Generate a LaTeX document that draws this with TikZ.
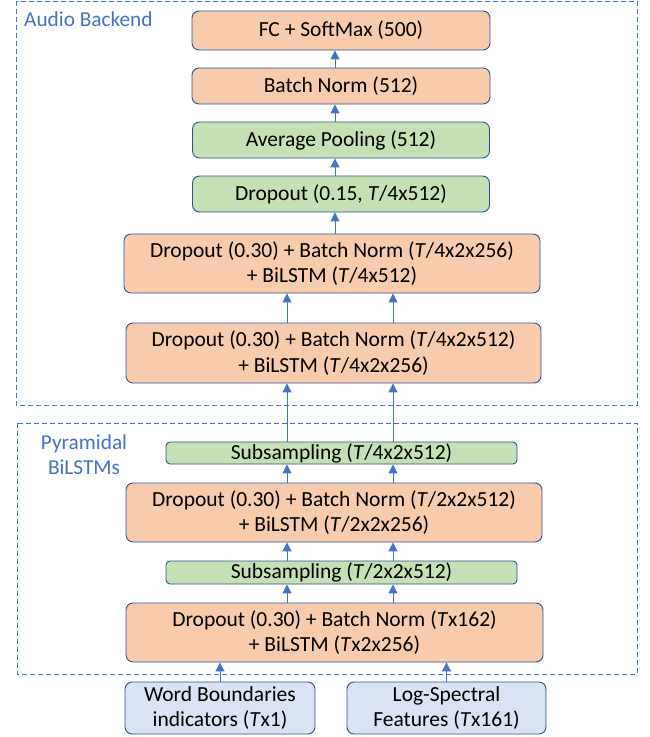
\documentclass[tikz,border=0pt]{standalone}
\usepackage{fontspec}
\setmainfont{Carlito}
\usetikzlibrary{arrows.meta}
\definecolor{Peach}{RGB}{248,203,173}
\definecolor{Sage}{RGB}{197,224,180}
\definecolor{Mist}{RGB}{218,227,243}
\definecolor{Edge}{RGB}{47,82,143}
\definecolor{Accent}{RGB}{68,114,196}

\begin{document}
\begin{tikzpicture}[x=1pt,y=-1pt,
    layer/.style={draw=Edge,line width=0.9pt,rounded corners=7pt,align=center,
      inner sep=0pt,font=\fontsize{21.5}{25.5}\selectfont},
    dense/.style={layer,fill=Peach},
    light/.style={layer,fill=Sage},
    inputbox/.style={layer,fill=Mist},
    group/.style={draw=Accent,line width=0.9pt,dash pattern=on 5pt off 3pt},
    grouplabel/.style={text=Accent,inner sep=0pt,align=center,font=\fontsize{21.3}{25}\selectfont},
    arr/.style={draw=Accent,line width=1pt,-{Triangle[length=9pt,width=9pt]}}]
  \useasboundingbox (0,0) rectangle (649,737);

  % groups
  \draw[group] (16,1) rectangle (637,405);
  \draw[group] (17,423) rectangle (637,674);
  \node[grouplabel,anchor=west] (backend) at (24,19) {Audio Backend};
  \node[grouplabel] (pyramid) at (84,455) {Pyramidal\\BiLSTMs};

  % audio backend
  \node[dense,minimum width=298,minimum height=39] (fc) at (341,30.5) {FC + SoftMax (500)};
  \node[dense,minimum width=298,minimum height=36] (bn) at (341,86) {Batch Norm (512)};
  \node[light,minimum width=297,minimum height=36] (pool) at (341,140) {Average Pooling (512)};
  \node[light,minimum width=297,minimum height=36] (drop) at (341,194) {Dropout (0.15, \textit{T}/4x512)};
  \node[dense,minimum width=416,minimum height=59] (lstm4) at (332,263.5)
    {Dropout (0.30) + Batch Norm (\textit{T}/4x2x256)\\+ BiLSTM (\textit{T}/4x512)};
  \node[dense,minimum width=415,minimum height=60] (lstm3) at (333.5,353)
    {Dropout (0.30) + Batch Norm (\textit{T}/4x2x512)\\+ BiLSTM (\textit{T}/4x2x256)};

  % pyramidal bilstms
  \node[light,rounded corners=4pt,minimum width=351,minimum height=22] (sub2) at (341.5,453) {Subsampling (\textit{T}/4x2x512)};
  \node[dense,minimum width=416,minimum height=59] (lstm2) at (334,512.5)
    {Dropout (0.30) + Batch Norm (\textit{T}/2x2x512)\\+ BiLSTM (\textit{T}/2x2x256)};
  \node[light,rounded corners=4pt,minimum width=351,minimum height=23] (sub1) at (341.5,572.5) {Subsampling (\textit{T}/2x2x512)};
  \node[dense,minimum width=417,minimum height=59] (lstm1) at (334.5,632.5)
    {Dropout (0.30) + Batch Norm (\textit{T}x162)\\+ BiLSTM (\textit{T}x2x256)};

  % inputs
  \node[inputbox,minimum width=190,minimum height=52] (words) at (220,708) {Word Boundaries\\indicators (\textit{T}x1)};
  \node[inputbox,minimum width=199,minimum height=52] (spec) at (446.5,708) {Log-Spectral\\Features (\textit{T}x161)};

  \coordinate (la) at (287,0);
  \coordinate (ra) at (393,0);
  \coordinate (ma) at (335,0);

  % connections
  \draw[arr] (words.north) -- (words.north |- lstm1.south);
  \draw[arr] (spec.north) -- (spec.north |- lstm1.south);
  \foreach \lo/\hi in {lstm1/sub1,sub1/lstm2,lstm2/sub2,sub2/lstm3,lstm3/lstm4}{
    \draw[arr] (\lo.north -| la) -- (\hi.south -| la);
    \draw[arr] (\lo.north -| ra) -- (\hi.south -| ra);
  }
  \foreach \lo/\hi in {lstm4/drop,drop/pool,pool/bn,bn/fc}
    \draw[arr] (\lo.north -| ma) -- (\hi.south -| ma);
\end{tikzpicture}
\end{document}
